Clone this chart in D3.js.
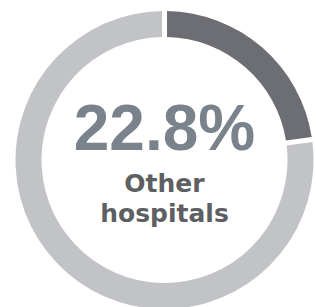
<!DOCTYPE html>
<html>
<head>
<meta charset="utf-8">
<script src="https://cdn.jsdelivr.net/npm/d3@7"></script>
<style>
  html, body { margin: 0; padding: 0; background: #fff; }
</style>
</head>
<body>
<div class="donut"></div>
<script>
var categories = ["Other hospitals", "Rest"];
var values = [22.8, 77.2];
var colors = ["#6d6e73", "#c1c3c7"];
var labelLines = ["Other", "hospitals"];

var width = 316, height = 307;
var cx = 164.5, cy = 160;
var outer = 149, inner = 123;

var svg = d3.select(".donut").append("svg")
    .attr("width", width)
    .attr("height", height);

var g = svg.append("g")
    .attr("transform", `translate(${cx},${cy})`);

var pie = d3.pie()
    .sort(null)
    .value(d => d);

var arc = d3.arc()
    .innerRadius(inner)
    .outerRadius(outer)
    .padRadius(100)
    .padAngle(0.05);

g.selectAll("path")
    .data(pie(values))
    .join("path")
    .attr("d", arc)
    .attr("fill", (d, i) => colors[i]);

// big percentage
g.append("text")
    .attr("x", 0)
    .attr("y", -10)
    .attr("text-anchor", "middle")
    .attr("font-family", "'Liberation Sans', Arial, sans-serif")
    .attr("font-weight", 700)
    .attr("font-size", 64)
    .attr("fill", "#7a838c")
    .text(d3.format(".1f")(values[0]) + "%");

// label
g.append("g")
    .selectAll("text")
    .data(labelLines)
    .join("text")
    .attr("x", 0)
    .attr("y", (d, i) => 32 + i * 30)
    .attr("text-anchor", "middle")
    .attr("font-family", "'DejaVu Sans', sans-serif")
    .attr("font-weight", 700)
    .attr("font-size", 25)
    .attr("fill", "#5e5f63")
    .text(d => d);
</script>
</body>
</html>
